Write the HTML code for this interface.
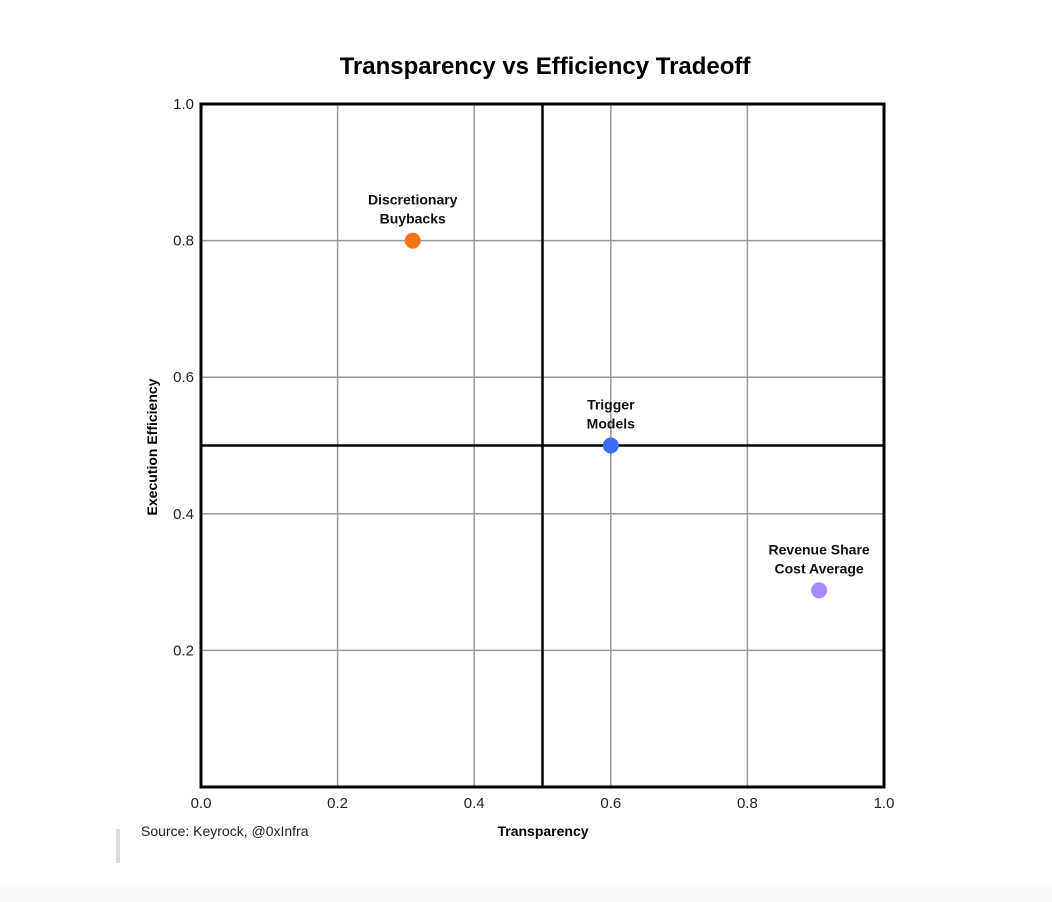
<!DOCTYPE html>
<html><head><meta charset="utf-8"><style>
body{margin:0;background:#fff;font-family:"Liberation Sans",sans-serif;}
svg{display:block}
</style></head><body>
<svg width="1052" height="902" id="chart">
<rect x="0" y="0" width="1052" height="885" fill="#fff"/>
<rect x="0" y="885" width="1052" height="17" fill="#fafafa"/>
<text x="545" y="74" text-anchor="middle" font-size="24" font-weight="bold" fill="#000">Transparency vs Efficiency Tradeoff</text>
<g id="grid"></g>
<g id="points"></g>
<text x="543" y="836" text-anchor="middle" font-size="14" font-weight="bold">Transparency</text>
<text transform="translate(157,447) rotate(-90)" text-anchor="middle" font-size="14" font-weight="bold">Execution Efficiency</text>
<rect x="116" y="829" width="4" height="34" fill="#ddd"/>
<text x="141" y="836" font-size="14" fill="#222">Source: Keyrock, @0xInfra</text>
</svg>
<script>
const names=[["Discretionary","Buybacks"],["Trigger","Models"],["Revenue Share","Cost Average"]];
const xVals=[0.31,0.60,0.905];
const yVals=[0.80,0.50,0.288];
const colors=["#f97316","#3b6ff5","#a78bfa"];
const ticks=[0,0.2,0.4,0.6,0.8,1.0];
const X0=201,X1=884,Y0=787,Y1=104;
const sx=v=>X0+(X1-X0)*v, sy=v=>Y0-(Y0-Y1)*v;
const NS="http://www.w3.org/2000/svg";
const g=document.getElementById('grid'), p=document.getElementById('points');
function mk(tag,at,parent){const e=document.createElementNS(NS,tag);for(const k in at)e.setAttribute(k,at[k]);parent.appendChild(e);return e;}
ticks.forEach(t=>{
 if(t>0&&t<1){
  const l1=mk('line',{x1:sx(t),x2:sx(t),y1:Y1,y2:Y0,stroke:'#999','stroke-width':1.5},g);
  
  
  const l2=mk('line',{x1:X0,x2:X1,y1:sy(t),y2:sy(t),stroke:'#999','stroke-width':1.5},g);
  
  
 }
 const tx=mk('text',{x:sx(t),y:Y0+21,'text-anchor':'middle','font-size':15,fill:'#222'},g);
 tx.textContent=t.toFixed(1);
 
 
 if(t>0){
  const ty=mk('text',{x:X0-7,y:sy(t)+5,'text-anchor':'end','font-size':15,fill:'#222'},g);
  ty.textContent=t.toFixed(1);
  
  
 }
});
const q1=mk('line',{x1:sx(0.5),x2:sx(0.5),y1:Y1,y2:Y0,stroke:'#000','stroke-width':2.5},g);


const q2=mk('line',{x1:X0,x2:X1,y1:sy(0.5),y2:sy(0.5),stroke:'#000','stroke-width':2.5},g);


const fr=mk('rect',{x:X0,y:Y1,width:X1-X0,height:Y0-Y1,fill:'none',stroke:'#000','stroke-width':3},g);


xVals.forEach((v,i)=>{
 const c=mk('circle',{cx:sx(v),cy:sy(yVals[i]),r:8,fill:colors[i]},p);
 
 
 names[i].forEach((ln,j)=>{
  const t=mk('text',{x:sx(v),y:sy(yVals[i])-36+j*19,'text-anchor':'middle','font-size':14,'font-weight':'bold',fill:'#111'},p);
  t.textContent=ln;
  
  
 });
});
</script>
</body></html>
